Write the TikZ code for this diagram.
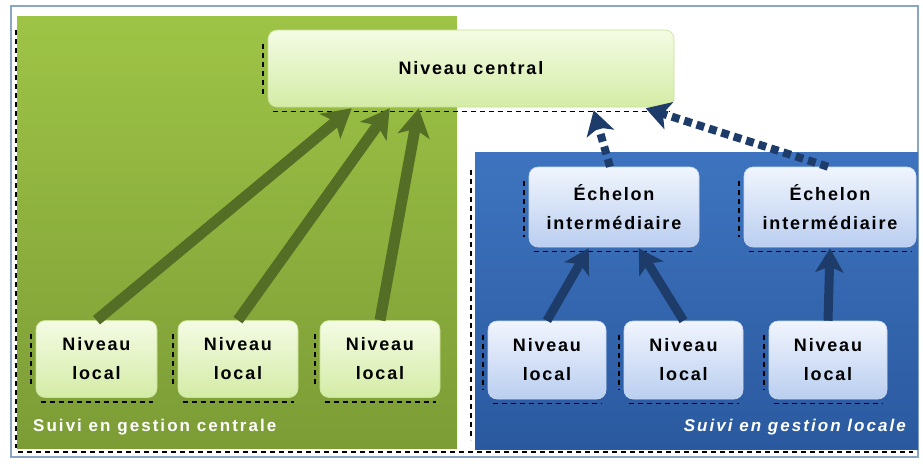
\documentclass[tikz,border=0pt]{standalone}
\usepackage{fontspec}
\setmainfont{Liberation Sans}
\newfontfamily\boxfont{Liberation Sans}[LetterSpace=10]
\newfontfamily\labelfont{Liberation Sans}[LetterSpace=12]
\usetikzlibrary{arrows.meta,calc}
\definecolor{gtop}{HTML}{9EC446}
\definecolor{gbot}{HTML}{7C9C36}
\definecolor{btop}{HTML}{3E74BF}
\definecolor{bbot}{HTML}{2A599F}
\definecolor{garrow}{HTML}{556E25}
\definecolor{barrow}{HTML}{1D3C6A}
\definecolor{frame}{HTML}{8AA6C4}
\tikzset{
  gbox/.style={rectangle, rounded corners=9pt, top color={rgb,255:red,244;green,251;blue,228}, bottom color={rgb,255:red,212;green,236;blue,166},
     draw={rgb,255:red,200;green,225;blue,150}, line width=0.6pt, align=center,
     font=\boxfont\bfseries\fontsize{18}{29}\selectfont, text=black},
  bbox/.style={rectangle, rounded corners=9pt, top color={rgb,255:red,240;green,245;blue,253}, bottom color={rgb,255:red,186;green,206;blue,240},
     draw={rgb,255:red,200;green,215;blue,240}, line width=0.6pt, align=center,
     font=\boxfont\bfseries\fontsize{18}{29}\selectfont, text=black},
  shadowline/.style={draw=black, line width=1.6pt, dash pattern=on 5pt off 4pt},
  garr/.style={draw=garrow, line width=11pt, -{Stealth[width=32pt,length=28pt,inset=7pt]}},
  barr/.style={draw=barrow, line width=9pt, -{Stealth[width=28pt,length=24pt,inset=6pt]}},
  bdarr/.style={draw=barrow, line width=8pt, dash pattern=on 8pt off 5pt, -{Stealth[width=28pt,length=24pt,inset=6pt]}},
  paneltext/.style={text=white, font=\labelfont\bfseries\fontsize{17}{20}\selectfont, inner sep=0pt},
}
\begin{document}
\begin{tikzpicture}[x=1pt,y=-1pt]
\useasboundingbox (0,0) rectangle (923,463);
\fill[white] (0,0) rectangle (923,463);
% outer frame
\draw[frame, line width=1.5pt] (11,6) rectangle (918,457);
% panels
\shade[top color=gtop, bottom color=gbot] (17,16) rectangle (457,448);
\shade[top color=btop, bottom color=bbot] (475,152) rectangle (918,449);
% panel shadow dashes
\draw[shadowline] (16,30) -- (16,448);
\draw[shadowline] (18,452) -- (913,452);
\draw[shadowline] (471,170) -- (471,440);
% nodes
\node[gbox, minimum width=406pt, minimum height=77pt] (central) at (471,68.5) {Niveau central};
\node[bbox, minimum width=170pt, minimum height=80pt] (e1) at (614,207) {Échelon\\intermédiaire};
\node[bbox, minimum width=172pt, minimum height=80pt] (e2) at (830,207) {Échelon\\intermédiaire};
\node[gbox, minimum width=121pt, minimum height=77pt] (l1) at (96.5,359) {Niveau\\local};
\node[gbox, minimum width=120pt, minimum height=77pt] (l2) at (238,359) {Niveau\\local};
\node[gbox, minimum width=120pt, minimum height=77pt] (l3) at (380,359) {Niveau\\local};
\node[bbox, minimum width=118pt, minimum height=78pt] (b1) at (547,360) {Niveau\\local};
\node[bbox, minimum width=119pt, minimum height=78pt] (b2) at (683.5,360) {Niveau\\local};
\node[bbox, minimum width=118pt, minimum height=78pt] (b3) at (828,360) {Niveau\\local};
% node shadow dashes
\foreach \n in {central,e1,e2,l1,l2,l3,b1,b2,b3}{
  \draw[shadowline] ($(\n.north west)+(-5,14)$) -- ($(\n.south west)+(-5,-10)$);
  \draw[shadowline] ($(\n.south west)+(5,4)$) -- ($(\n.south east)+(-4,4)$);
}
% green arrows
\draw[garr] (l1.north) -- ($(central.south west)+(84,1)$);
\draw[garr] (l2.north) -- ($(central.south west)+(122,1)$);
\draw[garr] (l3.north) -- ($(central.south west)+(151,1)$);
% blue solid arrows
\draw[barr] (b1.north) -- ($(e1.south west)+(60,1)$);
\draw[barr] (b2.north) -- ($(e1.south west)+(110,1)$);
\draw[barr] (b3.north) -- ($(e2.south)+(0,1)$);
% blue dashed arrows
\draw[bdarr] ($(e1.north)+(-4,0)$) -- ($(central.south west)+(326,3)$);
\draw[bdarr] ($(e2.north)+(-2,0)$) -- ($(central.south west)+(378,1)$);
% panel labels
\node[paneltext, anchor=west] (lg) at (33,427) {Suivi en gestion centrale};
\node[paneltext, anchor=east, font=\labelfont\bfseries\itshape\fontsize{17}{20}\selectfont] (lb) at (906,427) {Suivi en gestion locale};
\end{tikzpicture}
\end{document}
